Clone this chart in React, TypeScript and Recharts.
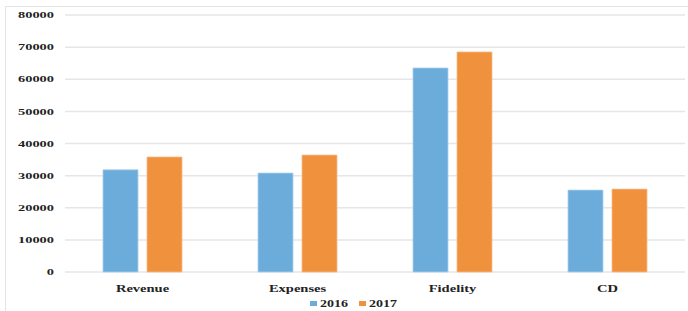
import React from "react";
import { BarChart, Bar, XAxis, YAxis, CartesianGrid, Legend } from "recharts";

// values
const categories = ["Revenue", "Expenses", "Fidelity", "CD"];
const values2016 = [31800, 30800, 63500, 25500];
const values2017 = [35800, 36400, 68500, 25800];
const yTicks = [0, 10000, 20000, 30000, 40000, 50000, 60000, 70000, 80000];

const data = categories.map((name, i) => ({
  name,
  y2016: values2016[i],
  y2017: values2017[i],
}));

const BLUE = "#6BACDB";
const ORANGE = "#F0913D";
const FONT = '"Liberation Serif", "Times New Roman", serif';

// the source image is stretched sideways, so the text is too
const YTick = (props: any) => {
  const { x, y, payload } = props;
  return (
    <text
      transform={`translate(${x},${y}) scale(1.6,1)`}
      textAnchor="end"
      dy="0.35em"
      fontFamily={FONT}
      fontWeight="bold"
      fontSize={9}
      fill="#222"
    >
      {payload.value}
    </text>
  );
};

const XTick = (props: any) => {
  const { x, y, payload } = props;
  return (
    <text
      transform={`translate(${x},${y + 18}) scale(1.32,1)`}
      textAnchor="middle"
      fontFamily={FONT}
      fontWeight="bold"
      fontSize={11}
      fill="#222"
    >
      {payload.value}
    </text>
  );
};

const LegendBox = () => (
  <div
    style={{
      display: "flex",
      justifyContent: "center",
      alignItems: "center",
      height: 13,
      paddingTop: 1,
      paddingLeft: 32,
      fontFamily: FONT,
      fontWeight: "bold",
      fontSize: 10,
      lineHeight: "12px",
      color: "#222",
    }}
  >
    {[
      ["2016", BLUE],
      ["2017", ORANGE],
    ].map(([label, color]) => (
      <div key={label} style={{ display: "flex", alignItems: "center", marginRight: 11 }}>
        <span style={{ width: 7, height: 5, background: color, marginRight: 3 }} />
        <span style={{ display: "inline-block", transform: "scale(1.4,1)", transformOrigin: "left center", width: 28 }}>
          {label}
        </span>
      </div>
    ))}
  </div>
);

export default function App() {
  return (
    <div style={{ position: "absolute", left: 0, top: 0, width: 688, height: 311, background: "#fff", overflow: "hidden" }}>
      {/* frame of the original screenshot */}
      <div
        style={{
          position: "absolute",
          left: 5,
          top: 6,
          width: 700,
          height: 320,
          borderTop: "1px solid #e4e4e4",
          borderLeft: "1px solid #e4e4e4",
        }}
      />
      <BarChart
        width={688}
        height={311}
        data={data}
        margin={{ top: 15, right: 3, bottom: 2, left: 0 }}
        barGap={9}
        barSize={35}
        style={{ position: "absolute", left: 0, top: 0 }}
      >
        <CartesianGrid vertical={false} stroke="#e6e6e6" strokeWidth={1.5} />
        <XAxis
          dataKey="name"
          height={24}
          axisLine={false}
          tickLine={false}
          tickSize={0}
          tick={<XTick />}
          interval={0}
        />
        <YAxis
          width={65}
          domain={[0, 80000]}
          ticks={yTicks}
          axisLine={false}
          tickLine={false}
          tickSize={0}
          tickMargin={11}
          tick={<YTick />}
          interval={0}
        />
        <Legend verticalAlign="bottom" height={13} content={<LegendBox />} />
        <Bar dataKey="y2016" name="2016" fill={BLUE} stroke="#a9d0ec" strokeWidth={0.8} isAnimationActive={false} />
        <Bar dataKey="y2017" name="2017" fill={ORANGE} stroke="#f6bd8c" strokeWidth={0.8} isAnimationActive={false} />
      </BarChart>
    </div>
  );
}
